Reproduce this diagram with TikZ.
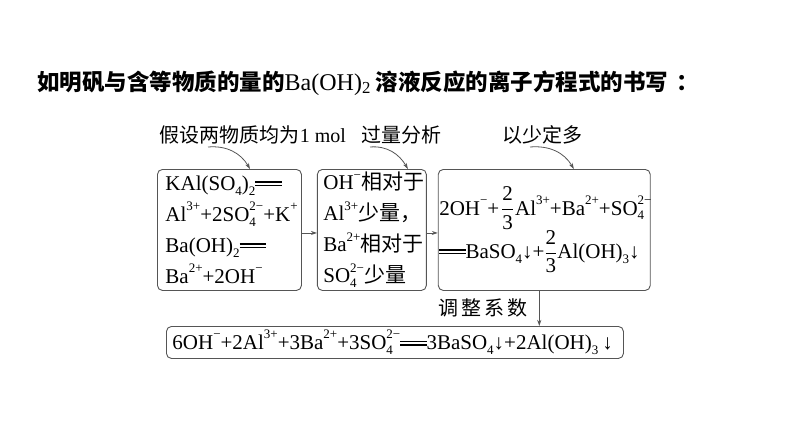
\documentclass[tikz,border=0pt]{standalone}
\usepackage{amsmath}
\usepackage{fontspec}
\setmainfont{Liberation Serif}
\newfontfamily\cjk{Noto Sans CJK SC}
\usepackage{tikz}
\usetikzlibrary{calc, positioning, arrows.meta}

\definecolor{linegray}{HTML}{555555}
\newcommand{\chsup}[1]{\raisebox{0.52em}{\fontsize{13}{13}\selectfont #1}}
\newcommand{\chsub}[1]{\raisebox{-0.22em}{\fontsize{13}{13}\selectfont #1}}
\newcommand{\chion}[2]{\rlap{\chsub{#1}}\chsup{#2}}
\newcommand{\longeq}{\mbox{\rlap{\rule[0.37em]{1.25em}{0.075em}}\rule[0.2em]{1.25em}{0.075em}}}
\newcommand{\chfrac}[2]{\ensuremath{\dfrac{\text{#1}}{\text{#2}}}}
\newcommand{\tightlines}{\lineskiplimit=-40pt\relax}

\begin{document}
\begin{tikzpicture}[
    x=1pt, y=-1pt,
    >={Stealth[length=6pt, width=4pt]},
    flow/.style={draw=linegray, line width=0.8pt},
    block/.style={draw=linegray, line width=0.9pt, rectangle, rounded corners=5pt, align=left,
        inner ysep=2pt, font=\fontsize{21}{31}\selectfont},
    note/.style={font=\cjk\fontsize{20}{24}\selectfont, inner sep=0pt},
]
    \useasboundingbox (0,0) rectangle (794,447);

    % Title
    \node[anchor=west, inner sep=0pt] (title) at (37,83)
        {{\cjk\bfseries\fontsize{22.5}{27}\selectfont 如明矾与含等物质的量的}{\fontsize{24}{27}\selectfont Ba(OH)\textsubscript{2}}\hspace{5pt}{\cjk\bfseries\fontsize{22.5}{27}\selectfont 溶液反应的离子方程式的书写\hspace{8pt}：}};

    % Boxes
    \node[block, anchor=north west, minimum height=121pt, inner xsep=8pt, text width=128pt] (box1) at (157,169)
        {\mbox{KAl(SO\chsub{4})\chsub{2}\longeq}\\
         \mbox{Al\chsup{3+}+2SO\chion{4}{2−}+K\chsup{+}}\\
         \mbox{Ba(OH)\chsub{2}\longeq}\\
         \mbox{Ba\chsup{2+}+2OH\chsup{−}}};
    \node[block, right=15pt of box1, minimum height=121pt, inner xsep=6pt, text width=97pt] (box2)
        {\mbox{OH\chsup{−}{\cjk 相对于}}\\
         \mbox{Al\chsup{3+}{\cjk 少量，}}\\
         \mbox{Ba\chsup{2+}{\cjk 相对于}}\\
         \mbox{SO\chion{4}{2−}{\cjk 少量}}};
    \node[block, right=11pt of box2, minimum height=121pt, inner xsep=1pt, text width=210pt,
        font=\fontsize{21}{37}\selectfont] (box3)
        {\tightlines
         \mbox{2OH\chsup{−}+\hspace{2pt}\chfrac{2}{3}\hspace{1pt}Al\chsup{3+}+Ba\chsup{2+}+SO\chion{4}{2−}}\\
         \mbox{\longeq BaSO\chsub{4}↓+\chfrac{2}{3}Al(OH)\chsub{3}↓}};
    \node[block, anchor=north west, minimum height=32pt, inner xsep=6pt, text width=445pt] (box4) at (166,326)
        {\mbox{6OH\chsup{−}+2Al\chsup{3+}+3Ba\chsup{2+}+3SO\chion{4}{2−}\longeq 3BaSO\chsub{4}↓+2Al(OH)\chsub{3}\hspace{4pt}↓}};

    % Step labels
    \node[note] (lab1) at (253,135) {假设两物质均为{\rmfamily 1 mol}};
    \node[note] (lab2) at (401,135) {过量分析};
    \node[note] (lab3) at (542,135) {以少定多};
    \node[note, anchor=east] (lab4) at (528,308) {调\hspace{3pt}整\hspace{3pt}系\hspace{3pt}数};

    % Curved arrows from the labels
    \coordinate (s1) at (208,147);
    \coordinate (s2) at (370,147);
    \coordinate (s3) at (530,147);
    \draw[flow, ->] (s1) to[out=5, in=120] ($(box1.north west)+(93,0)$);
    \draw[flow, ->] (s2) to[out=5, in=120] ($(box2.north west)+(91,0)$);
    \draw[flow, ->] (s3) to[out=5, in=120] ($(box3.north west)+(136,0)$);

    % Flow between boxes
    \draw[flow, ->] ([yshift=-3pt]box1.east) -- ([yshift=-3pt]box2.west);
    \draw[flow, ->] ([yshift=-3pt]box2.east) -- ([yshift=-3pt]box3.west);
    \draw[flow, ->] ([xshift=-5pt]box3.south) -- ([xshift=-5pt]box3.south |- box4.north);

\end{tikzpicture}
\end{document}
